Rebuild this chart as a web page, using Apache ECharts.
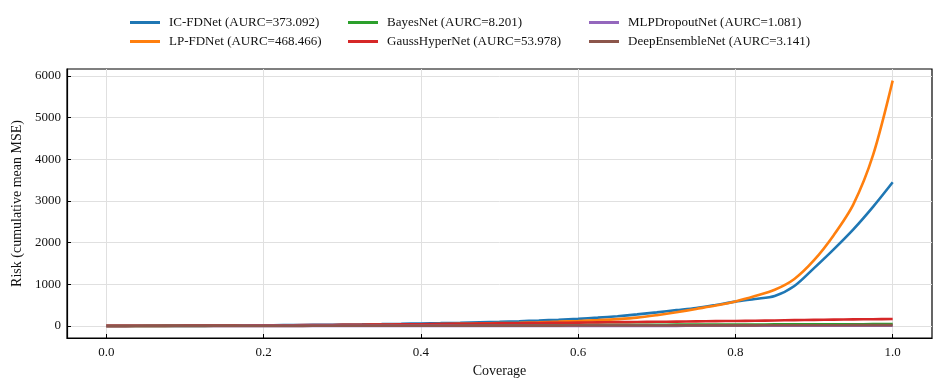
<!DOCTYPE html>
<html>
<head>
<meta charset="utf-8">
<script src="https://cdn.jsdelivr.net/npm/echarts@6/dist/echarts.min.js"></script>
<style>
  html, body { margin: 0; padding: 0; background: #fff; }
  #chart { width: 946px; height: 392px; }
</style>
</head>
<body>
<div id="chart"></div>
<script>
// coverage points along the x axis
const coverage = [
  0, 0.025, 0.05, 0.075, 0.1, 0.125, 0.15, 0.175, 0.2, 0.225,
  0.25, 0.275, 0.3, 0.325, 0.35, 0.375, 0.4, 0.425, 0.45, 0.475,
  0.5, 0.525, 0.55, 0.575, 0.6, 0.625, 0.65, 0.675, 0.7, 0.725,
  0.75, 0.775, 0.8, 0.825, 0.85, 0.875, 0.9, 0.925, 0.95, 0.975, 1.0
];

// risk values
const icFdnet = [
  3, 4, 5, 6, 8, 10, 12, 15, 18, 21,
  25, 29, 34, 39, 45, 52, 60, 68, 78, 89,
  101, 115, 131, 150, 172, 200, 235, 278, 328, 380,
  432, 505, 585, 650, 720, 960, 1390, 1840, 2320, 2860, 3450
];
const lpFdnet = [
  2, 3, 3, 4, 5, 6, 7, 9, 10, 12,
  14, 17, 20, 24, 28, 33, 38, 44, 51, 59,
  68, 78, 90, 104, 120, 140, 165, 200, 260, 330,
  410, 490, 590, 720, 870, 1130, 1580, 2180, 2920, 4100, 5890
];
const bayesNet = [
  1, 1, 2, 2, 3, 4, 5, 6, 7, 8,
  9, 10, 11, 12, 13, 15, 16, 17, 18, 19,
  21, 22, 23, 24, 25, 27, 28, 29, 30, 32,
  33, 34, 35, 37, 38, 39, 40, 41, 43, 44, 45
];
const gaussHyperNet = [
  3, 4, 5, 6, 8, 9, 11, 13, 15, 18,
  21, 24, 27, 31, 35, 39, 43, 48, 52, 57,
  62, 67, 72, 77, 82, 87, 92, 96, 101, 106,
  111, 116, 121, 127, 133, 140, 146, 152, 158, 163, 168
];
const mlpDropoutNet = [
  1, 1, 1, 1, 1, 1, 1, 2, 2, 2,
  2, 2, 2, 2, 2, 3, 3, 3, 3, 3,
  3, 3, 3, 4, 4, 4, 4, 4, 4, 4,
  5, 5, 5, 5, 5, 5, 5, 6, 6, 6, 6
];
const deepEnsembleNet = [
  1, 1, 1, 2, 2, 2, 3, 3, 3, 4,
  4, 5, 5, 5, 6, 6, 7, 7, 8, 8,
  9, 9, 10, 10, 11, 11, 12, 13, 13, 14,
  14, 15, 16, 16, 17, 18, 18, 19, 20, 20, 21
];

const seriesNames = [
  "IC-FDNet (AURC=373.092)",
  "LP-FDNet (AURC=468.466)",
  "BayesNet (AURC=8.201)",
  "GaussHyperNet (AURC=53.978)",
  "MLPDropoutNet (AURC=1.081)",
  "DeepEnsembleNet (AURC=3.141)"
];
const seriesValues = [icFdnet, lpFdnet, bayesNet, gaussHyperNet, mlpDropoutNet, deepEnsembleNet];
const colors = ["#1f77b4", "#ff7f0e", "#2ca02c", "#d62728", "#9467bd", "#8c564b"];

const xTicks = [0, 0.2, 0.4, 0.6, 0.8, 1.0];
const yTicks = [0, 1000, 2000, 3000, 4000, 5000, 6000];

const font = "Liberation Serif";

const chart = echarts.init(document.getElementById("chart"));

const legendBase = {
  orient: "vertical",
  top: 15,
  itemWidth: 30,
  itemHeight: 3,
  itemGap: 4,
  icon: "rect",
  padding: 0,
  textStyle: { fontFamily: font, fontSize: 13, lineHeight: 15, color: "#111", padding: [0, 0, 0, 4] }
};

const option = {
  animation: false,
  color: colors,
  legend: [
    Object.assign({}, legendBase, { left: 130, data: seriesNames.slice(0, 2) }),
    Object.assign({}, legendBase, { left: 348, data: seriesNames.slice(2, 4) }),
    Object.assign({}, legendBase, { left: 589, data: seriesNames.slice(4, 6) })
  ],
  grid: {
    left: 67, right: 14, top: 69, bottom: 54,
    show: true, borderColor: "#000", borderWidth: 1.2, backgroundColor: "transparent"
  },
  xAxis: {
    type: "value",
    min: -0.05,
    max: 1.05,
    name: "Coverage",
    nameLocation: "middle",
    nameGap: 24,
    nameTextStyle: { fontFamily: font, fontSize: 14, color: "#111" },
    axisLine: { onZero: false, lineStyle: { color: "#000", width: 1.2 } },
    axisTick: { inside: true, length: 4, customValues: xTicks, lineStyle: { color: "#000" } },
    axisLabel: {
      customValues: xTicks,
      fontFamily: font, fontSize: 13, color: "#111", margin: 8,
      formatter: v => v.toFixed(1)
    },
    splitLine: { show: true, lineStyle: { color: "#e0e0e0", width: 1 } }
  },
  yAxis: {
    type: "value",
    min: -288,
    max: 6168,
    name: "Risk (cumulative mean MSE)",
    nameLocation: "middle",
    nameGap: 37,
    nameTextStyle: { fontFamily: font, fontSize: 14, color: "#111" },
    axisLine: { show: true, onZero: false, lineStyle: { color: "#000", width: 1.2 } },
    axisTick: { show: true, inside: true, length: 4, customValues: yTicks, lineStyle: { color: "#000" } },
    axisLabel: {
      customValues: yTicks,
      fontFamily: font, fontSize: 13, color: "#111", margin: 6,
      formatter: v => String(v)
    },
    splitLine: { show: true, lineStyle: { color: "#e0e0e0", width: 1 } }
  },
  series: seriesNames.map((name, i) => ({
    name: name,
    type: "line",
    showSymbol: false,
    smooth: 0.3,
    lineStyle: { width: 2.6, color: colors[i] },
    itemStyle: { color: colors[i] },
    data: coverage.map((c, j) => [c, seriesValues[i][j]])
  }))
};

chart.setOption(option);
</script>
</body>
</html>
